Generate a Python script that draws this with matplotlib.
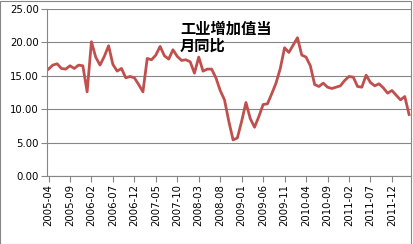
import matplotlib
matplotlib.use('Agg')
import matplotlib.pyplot as plt
from matplotlib.patches import Rectangle
import pandas as pd

# 月份 (2005-04 ~ 2012-04)
months = [str(p) for p in pd.period_range('2005-04', '2012-04', freq='M')]

# 工业增加值当月同比 (%)
yoy = [16.0, 16.6, 16.8, 16.1, 16.0, 16.5, 16.1, 16.6, 16.5,
       12.6, 20.1, 17.8, 16.6, 17.9, 19.5, 16.7, 15.7, 16.1, 14.7, 14.9, 14.7,
       13.7, 12.6, 17.6, 17.4, 18.1, 19.4, 18.0, 17.5, 18.9, 17.9, 17.3, 17.4,
       17.1, 15.4, 17.8, 15.7, 16.0, 16.0, 14.7, 12.8, 11.4, 8.2, 5.4, 5.7,
       8.2, 11.0, 8.6, 7.3, 8.9, 10.7, 10.8, 12.3, 13.9, 16.1, 19.2, 18.5,
       19.6, 20.7, 18.1, 17.8, 16.5, 13.7, 13.4, 13.9, 13.3, 13.1, 13.3, 13.5,
       14.3, 14.9, 14.8, 13.4, 13.3, 15.1, 14.0, 13.5, 13.8, 13.2, 12.4, 12.8,
       12.1, 11.4, 11.9, 9.2]

yticks = [0, 5, 10, 15, 20, 25]
grey = '#868686'

fig = plt.figure(figsize=(4.14, 2.44), dpi=100)
ax = fig.add_axes([47 / 414, 68 / 244, 364 / 414, 167 / 244])

x = list(range(len(months)))
ax.plot(x, yoy, color='#C0504D', lw=2.0, solid_joinstyle='round')

ax.set_xlim(-0.35, 84.45)
ax.set_ylim(0, 25)
ax.set_yticks(yticks)
ax.set_yticklabels(['%.2f' % v for v in yticks], fontsize=7.3)
ax.set_xticks(x[::5])
ax.set_xticklabels(months[::5], rotation=90, fontsize=7.3)
ax.tick_params(axis='both', color=grey, length=4, width=0.8, pad=2)

ax.grid(axis='y', color=grey, lw=0.8)
ax.set_axisbelow(True)
for s in ['top', 'right']:
    ax.spines[s].set_visible(False)
for s in ['left', 'bottom']:
    ax.spines[s].set_color(grey)
    ax.spines[s].set_linewidth(0.8)

# 标题 (图内)
fig.text(180 / 414, 1 - 21 / 244, '工业增加值当\n月同比', fontsize=11,
         family=['Noto Sans CJK SC', 'DejaVu Sans'], fontweight='bold',
         va='top', ha='left', linespacing=1.05)

# 外框
fig.add_artist(Rectangle((0.5 / 414, 0.5 / 244), 410.5 / 414, 243 / 244,
                         transform=fig.transFigure, fill=False, ec=grey, lw=0.8))

fig.savefig('out.png', dpi=100)
